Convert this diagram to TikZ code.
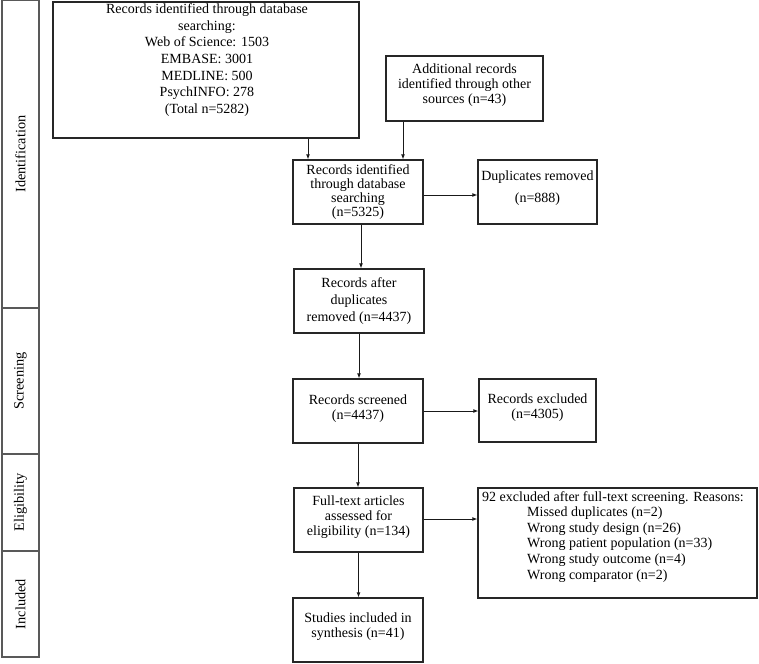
\documentclass[tikz,border=0pt]{standalone}
\usepackage{fontspec}
\setmainfont{Liberation Serif}
\usetikzlibrary{arrows.meta}
\begin{document}
\begin{tikzpicture}[x=1pt,y=-1pt,
  box/.style={draw=black!85, line width=1.3pt, inner sep=0pt},
  txt/.style={align=center, inner sep=0pt, font=\fontsize{14}{15}\selectfont},
  phase/.style={draw=black!65, line width=1.3pt, inner sep=0pt, rotate=90, font=\fontsize{14.3}{15}\selectfont},
  arr/.style={draw=black!90, line width=0.9pt, -{Latex[length=5pt,width=4pt]}}]
\useasboundingbox (0,0) rectangle (759,663);
% phase column
\node[phase, minimum width=308pt, minimum height=37pt] (pid) at (20.5,154) {Identification};
\node[phase, minimum width=146pt, minimum height=37pt] (psc) at (20.5,381) {Screening};
\node[phase, minimum width=97pt, minimum height=37pt] (pel) at (20.5,502.5) {Eligibility};
\node[phase, minimum width=106pt, minimum height=37pt] (pin) at (20.5,604) {Included};
% boxes
\node[box, minimum width=306pt, minimum height=136pt] (db) at (206,70) {};
\node[txt, font=\fontsize{14}{16.7}\selectfont] (dbt) at (207,60) {Records identified through database\\searching:\\Web of Science: 1503\\EMBASE: 3001\\MEDLINE: 500\\PsychINFO: 278\\(Total n=5282)};
\node[box, minimum width=157pt, minimum height=65pt] (add) at (464.5,88.5) {};
\node[txt] (addt) at (464.5,85) {Additional records\\identified through other\\sources (n=43)};
\node[box, minimum width=130pt, minimum height=64pt] (rid) at (358,192) {};
\node[txt, font=\fontsize{14}{14}\selectfont] (ridt) at (358,192) {Records identified\\through database\\searching\\(n=5325)};
\node[box, minimum width=119pt, minimum height=64pt] (dup) at (537.5,192) {};
\node[txt, font=\fontsize{14}{22}\selectfont] (dupt) at (537.5,188) {Duplicates removed\\(n=888)};
\node[box, minimum width=130pt, minimum height=64pt] (aft) at (359,301) {};
\node[txt, font=\fontsize{14}{17}\selectfont] (aftt) at (359,301) {Records after\\duplicates\\removed (n=4437)};
\node[box, minimum width=130pt, minimum height=64pt] (scr) at (358,411) {};
\node[txt] (scrt) at (358,408.5) {Records screened\\(n=4437)};
\node[box, minimum width=117pt, minimum height=63pt] (exc) at (537.5,410.5) {};
\node[txt] (exct) at (537.5,408) {Records excluded\\(n=4305)};
\node[box, minimum width=129pt, minimum height=64pt] (ful) at (358.5,520) {};
\node[txt] (fult) at (358.5,517.5) {Full-text articles\\assessed for\\eligibility (n=134)};
\node[box, minimum width=279pt, minimum height=110pt] (fex) at (617.5,543) {};
\node[txt, align=left, anchor=north west, font=\fontsize{14}{15.6}\selectfont] (fext) at (482,491) {92 excluded after full-text screening. Reasons:\\
\hspace*{45pt}Missed duplicates (n=2)\\
\hspace*{45pt}Wrong study design (n=26)\\
\hspace*{45pt}Wrong patient population (n=33)\\
\hspace*{45pt}Wrong study outcome (n=4)\\
\hspace*{45pt}Wrong comparator (n=2)};
\node[box, minimum width=130pt, minimum height=64pt] (inc) at (358,630) {};
\node[txt] (inct) at (358,627) {Studies included in\\synthesis (n=41)};
% connectors
\draw[arr] ([xshift=-50pt]rid.north |- db.south) -- ([xshift=-50pt]rid.north);
\draw[arr] ([xshift=-61.5pt]add.south) -- ([xshift=-61.5pt]add.south |- rid.north);
\draw[arr] ([yshift=-3pt]rid.east) -- ([yshift=-3pt]rid.east -| dup.west);
\draw[arr] ([xshift=3pt]rid.south) -- ([xshift=3pt]rid.south |- aft.north);
\draw[arr] (aft.south) -- (aft.south |- scr.north);
\draw[arr] (scr.east) -- (scr.east -| exc.west);
\draw[arr] (scr.south) -- (scr.south |- ful.north);
\draw[arr] ([yshift=1pt]ful.east) -- ([yshift=1pt]ful.east -| fex.west);
\draw[arr] (ful.south) -- (ful.south |- inc.north);
\end{tikzpicture}
\end{document}
